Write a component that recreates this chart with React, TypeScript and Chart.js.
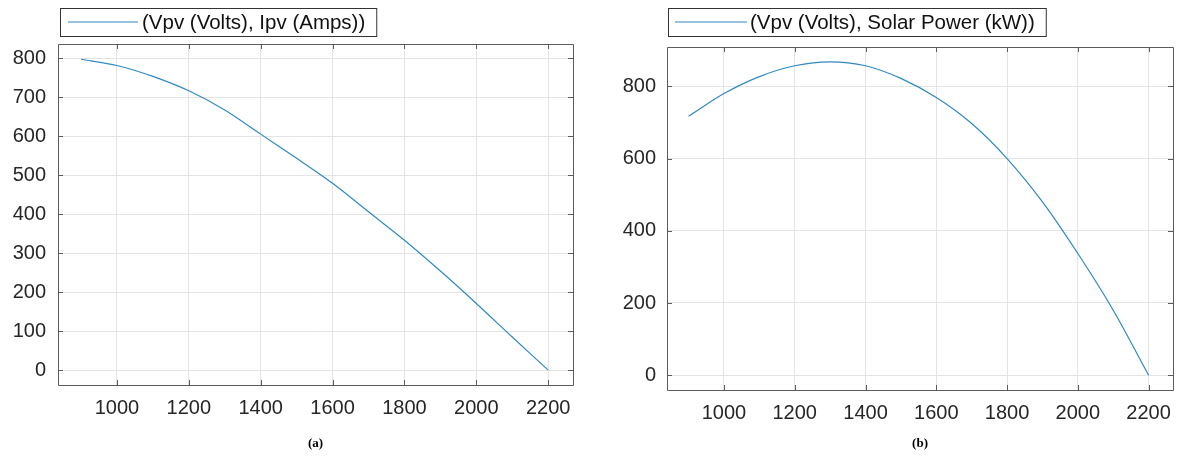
import React, { useEffect, useRef } from "react";
import { Chart, registerables } from "chart.js";

Chart.register(...registerables);

// ---- data ----
const voltage = [900, 1000, 1100, 1200, 1300, 1400, 1500, 1600, 1700, 1800, 1900, 2000, 2100, 2200];
const currentAmps = [797, 781, 753, 716, 667, 605, 543, 479, 406, 333, 254, 171, 85, 0];
const solarPowerKW = [717, 780, 827, 857, 868, 857, 822, 769, 697, 600, 480, 337, 180, 0];

const xTickValues = [1000, 1200, 1400, 1600, 1800, 2000, 2200];
const yTickValuesA = [0, 100, 200, 300, 400, 500, 600, 700, 800];
const yTickValuesB = [0, 200, 400, 600, 800];

const legendTextA = "(Vpv (Volts), Ipv (Amps))";
const legendTextB = "(Vpv (Volts), Solar Power (kW))";
const captionA = "(a)";
const captionB = "(b)";

const LINE_COLOR = "#2f89c2";
const FONT = "'Liberation Sans', Arial, Helvetica, sans-serif";

type PanelProps = {
  left: number;
  width: number;
  xs: number[];
  ys: number[];
  yTicks: number[];
  xTicks: number[];
  xMin: number;
  xMax: number;
  yMin: number;
  yMax: number;
  label: string;
  caption: string;
  yAxisWidth: number;
  xAxisHeight: number;
  padTop: number;
  padRight: number;
  yTickPad: number;
  legend: { x: number; y: number; h: number; l1: number; l2: number; tx: number };
};

const framePlugin = {
  id: "matlabFrame",
  afterDraw(chart: any, _args: any, opts: any) {
    const { ctx, chartArea } = chart;
    const { left, right, top, bottom } = chartArea;
    ctx.save();
    // frame
    ctx.strokeStyle = "#5c5c5c";
    ctx.lineWidth = 1;
    ctx.beginPath();
    ctx.rect(Math.round(left) + 0.5, Math.round(top) + 0.5, Math.round(right - left), Math.round(bottom - top));
    ctx.stroke();
    // inward tick marks on all sides
    const xs = chart.scales.x;
    const ys = chart.scales.y;
    const tl = 5;
    ctx.beginPath();
    for (const t of xs.ticks) {
      const px = Math.round(xs.getPixelForValue(t.value)) + 0.5;
      ctx.moveTo(px, bottom);
      ctx.lineTo(px, bottom - tl);
      ctx.moveTo(px, top);
      ctx.lineTo(px, top + tl);
    }
    for (const t of ys.ticks) {
      const py = Math.round(ys.getPixelForValue(t.value)) + 0.5;
      ctx.moveTo(left, py);
      ctx.lineTo(left + tl, py);
      ctx.moveTo(right, py);
      ctx.lineTo(right - tl, py);
    }
    ctx.stroke();

    // legend box
    const lg = opts.legend;
    const text = chart.data.datasets[0].label;
    ctx.font = `20.5px ${FONT}`;
    const tw = ctx.measureText(text).width;
    const bx = lg.x;
    const bw = lg.tx + tw + 11 - lg.x;
    ctx.fillStyle = "#ffffff";
    ctx.fillRect(bx, lg.y, bw, lg.h);
    ctx.strokeStyle = "#333333";
    ctx.lineWidth = 1;
    ctx.strokeRect(bx + 0.5, lg.y + 0.5, bw, lg.h);
    const cy = lg.y + lg.h / 2;
    ctx.strokeStyle = chart.data.datasets[0].borderColor;
    ctx.lineWidth = 1.2;
    ctx.beginPath();
    ctx.moveTo(lg.l1, cy);
    ctx.lineTo(lg.l2, cy);
    ctx.stroke();
    ctx.fillStyle = "#111111";
    ctx.textBaseline = "middle";
    ctx.textAlign = "left";
    ctx.fillText(text, lg.tx, cy + 1);
    ctx.restore();
  },
};

function Panel(p: PanelProps) {
  const ref = useRef<HTMLCanvasElement | null>(null);
  useEffect(() => {
    if (!ref.current) return;
    const chart = new Chart(ref.current, {
      type: "line",
      data: {
        datasets: [
          {
            label: p.label,
            data: p.xs.map((x, i) => ({ x, y: p.ys[i] })),
            borderColor: LINE_COLOR,
            borderWidth: 1.2,
            pointRadius: 0,
            tension: 0.3,
            fill: false,
          },
        ],
      },
      options: {
        animation: false,
        responsive: false,
        devicePixelRatio: 1,
        layout: { padding: { left: 0, right: p.padRight, top: p.padTop, bottom: 0 } },
        plugins: {
          legend: { display: false },
          tooltip: { enabled: false },
          matlabFrame: { legend: p.legend },
        } as any,
        scales: {
          x: {
            type: "linear",
            min: p.xMin,
            max: p.xMax,
            afterBuildTicks: (s: any) => {
              s.ticks = p.xTicks.map((v) => ({ value: v }));
            },
            afterFit: (s: any) => {
              s.height = p.xAxisHeight;
            },
            grid: { color: "#e4e4e4", lineWidth: 1, drawTicks: false },
            border: { display: false },
            ticks: {
              color: "#262626",
              font: { family: FONT, size: 20 },
              padding: 11,
              maxRotation: 0,
              autoSkip: false,
              callback: (v: any) => String(v),
            },
            title: {
              display: true,
              text: p.caption,
              color: "#000",
              font: { family: "'Liberation Serif', 'Times New Roman', serif", size: 13, weight: "bold" },
              padding: { top: 0, bottom: 14 },
            },
          },
          y: {
            type: "linear",
            min: p.yMin,
            max: p.yMax,
            afterBuildTicks: (s: any) => {
              s.ticks = p.yTicks.map((v) => ({ value: v }));
            },
            afterFit: (s: any) => {
              s.width = p.yAxisWidth;
            },
            grid: { color: "#e4e4e4", lineWidth: 1, drawTicks: false },
            border: { display: false },
            ticks: {
              color: "#262626",
              font: { family: FONT, size: 20 },
              padding: p.yTickPad,
              autoSkip: false,
              callback: (v: any) => String(v),
            },
          },
        },
      },
      plugins: [framePlugin],
    } as any);
    return () => chart.destroy();
  }, []);
  return (
    <canvas
      ref={ref}
      width={p.width}
      height={465}
      style={{ position: "absolute", left: p.left, top: 0, width: p.width, height: 465 }}
    />
  );
}

export default function App() {
  return (
    <div style={{ position: "absolute", left: 0, top: 0, width: 1182, height: 465, background: "#fff", overflow: "hidden" }}>
      <Panel
        left={0}
        width={591}
        xs={voltage}
        ys={currentAmps}
        yTicks={yTickValuesA}
        xTicks={xTickValues}
        xMin={836}
        xMax={2269}
        yMin={-38}
        yMax={836}
        label={legendTextA}
        caption={captionA}
        yAxisWidth={58}
        xAxisHeight={80}
        padTop={44}
        padRight={18}
        yTickPad={12}
        legend={{ x: 60, y: 8, h: 28, l1: 68, l2: 138, tx: 142 }}
      />
      <Panel
        left={591}
        width={591}
        xs={voltage}
        ys={solarPowerKW}
        yTicks={yTickValuesB}
        xTicks={xTickValues}
        xMin={839}
        xMax={2269}
        yMin={-41}
        yMax={909}
        label={legendTextB}
        caption={captionB}
        yAxisWidth={76}
        xAxisHeight={75}
        padTop={47}
        padRight={3}
        yTickPad={11}
        legend={{ x: 77, y: 8, h: 28, l1: 84, l2: 156, tx: 159 }}
      />
    </div>
  );
}
